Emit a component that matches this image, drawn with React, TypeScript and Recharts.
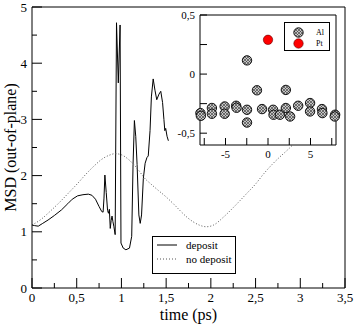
import { CartesianGrid, Legend, Line, LineChart, Scatter, ScatterChart, XAxis, YAxis } from "recharts";

// main panel: MSD vs time
const DEPOSIT_TIME = [
  0, 0.03, 0.07, 0.12, 0.18, 0.25, 0.33, 0.4, 0.45, 0.51, 0.57, 0.63, 0.67, 0.71, 0.75, 0.78, 0.795, 0.805,
  0.815, 0.83, 0.845, 0.855, 0.865, 0.875, 0.885, 0.895, 0.905, 0.915, 0.93, 0.945, 0.965, 0.985, 0.995, 1.02,
  1.05, 1.09, 1.115, 1.13, 1.145, 1.16, 1.175, 1.195, 1.21, 1.225, 1.245, 1.265, 1.285, 1.3, 1.32, 1.335, 1.355,
  1.375, 1.395, 1.42, 1.44, 1.46, 1.475, 1.485, 1.495, 1.51, 1.525,
];
const DEPOSIT_MSD = [
  1.12, 1.11, 1.1, 1.15, 1.21, 1.29, 1.39, 1.5, 1.58, 1.64, 1.66, 1.67, 1.65, 1.58, 1.45, 1.36, 1.35, 1.6,
  2.01, 1.7, 1.38, 1.33, 1.4, 1.06, 1.2, 1.28, 1.18, 1.1, 0.95, 4.72, 3.65, 4.68, 0.8, 0.71,
  0.68, 0.71, 0.92, 2.2, 2.98, 2.7, 2.2, 1.3, 1.15, 1.3, 1.95, 2.22, 2.32, 2.35, 2.8, 3.4, 3.72,
  3.52, 3.35, 3.45, 3.5, 3.3, 3.0, 2.8, 2.84, 2.7, 2.62,
];
const NO_DEPOSIT_TIME = [
  0, 0.1, 0.2, 0.33, 0.42, 0.51, 0.6, 0.7, 0.78, 0.86, 0.93, 1.0, 1.07, 1.13, 1.2, 1.25, 1.33, 1.41, 1.5,
  1.58, 1.66, 1.74, 1.8, 1.87, 1.95, 2.03, 2.14, 2.25, 2.4, 2.5, 2.59, 2.68, 2.77, 2.86, 2.95,
];
const NO_DEPOSIT_MSD = [
  1.12, 1.22, 1.36, 1.56, 1.71, 1.86, 2.02, 2.18, 2.29, 2.36, 2.39, 2.37, 2.3, 2.21, 2.08, 1.97, 1.85, 1.74, 1.62,
  1.5, 1.37, 1.25, 1.18, 1.12, 1.09, 1.12, 1.26, 1.43, 1.68, 1.85, 2.03, 2.19, 2.33, 2.46, 2.6,
];
const TIME_TICKS = [0, 0.25, 0.5, 0.75, 1, 1.25, 1.5, 1.75, 2, 2.25, 2.5, 2.75, 3, 3.25, 3.5];
const MSD_TICKS = [0, 0.5, 1, 1.5, 2, 2.5, 3, 3.5, 4, 4.5, 5];

// inset: per-atom values
const AL_POS = [
  -7.95, -7.9, -6.6, -6.6, -5.1, -5.1, -3.75, -3.7, -2.47, -2.47, -2.47, -1.3, -0.7, 0.6, 0.65, 1.4,
  2.1, 2.1, 2.6, 3.55, 4.95, 4.95, 6.35, 6.4, 7.9, 7.85,
];
const AL_VAL = [
  -0.33, -0.353, -0.287, -0.336, -0.274, -0.336, -0.268, -0.285, 0.116, -0.302, -0.41, -0.137, -0.296, -0.302,
  -0.344, -0.344, -0.287, -0.134, -0.359, -0.268, -0.245, -0.316, -0.296, -0.33, -0.344, -0.359,
];
const PT_POS = [0];
const PT_VAL = [0.29];
const INSET_X_TICKS = [-7.5, -5, -2.5, 0, 2.5, 5, 7.5];
const INSET_Y_TICKS = [-0.5, -0.25, 0, 0.25, 0.5];

const FONT = '"Liberation Serif", "Times New Roman", serif';

const LINES = [
  { key: "deposit", name: "deposit", color: "#000", dash: undefined as string | undefined },
  { key: "nodep", name: "no deposit", color: "#555", dash: "1 2" },
];

const deposit = DEPOSIT_TIME.map((t, i) => ({ t, msd: DEPOSIT_MSD[i] }));
const noDeposit = NO_DEPOSIT_TIME.map((t, i) => ({ t, msd: NO_DEPOSIT_MSD[i] }));
const al = AL_POS.map((x, i) => ({ x, y: AL_VAL[i] }));
const pt = PT_POS.map((x, i) => ({ x, y: PT_VAL[i] }));

const fmt = (v: number) => String(v).replace(".", ",");
const isMult = (v: number, step: number) => Math.abs(v / step - Math.round(v / step)) < 1e-6;

type Side = "bottom" | "top" | "left" | "right";
interface TickOpts {
  major: (v: number) => boolean;
  labelled: (v: number) => boolean;
  majorLen: number;
  minorLen: number;
  fontSize: number;
  gap: number;
}

// ticks point into the frame, labels sit outside
function frameTick(side: Side, o: TickOpts) {
  return (p: any) => {
    const { x, y, payload } = p;
    const v = payload.value as number;
    const len = o.major(v) ? o.majorLen : o.minorLen;
    const dx = side === "left" ? len : side === "right" ? -len : 0;
    const dy = side === "bottom" ? -len : side === "top" ? len : 0;
    let label = null;
    if (o.labelled(v) && side === "bottom") {
      label = (
        <text x={x} y={y + o.gap} textAnchor="middle" fontSize={o.fontSize} fontFamily={FONT} fill="#000">
          {fmt(v)}
        </text>
      );
    } else if (o.labelled(v) && side === "left") {
      label = (
        <text x={x - o.gap} y={y} dy="0.35em" textAnchor="end" fontSize={o.fontSize} fontFamily={FONT} fill="#000">
          {fmt(v)}
        </text>
      );
    }
    return (
      <g>
        <line x1={x} y1={y} x2={x + dx} y2={y + dy} stroke="#000" strokeWidth={1} />
        {label}
      </g>
    );
  };
}

const never = () => false;
const mainX: TickOpts = { major: (v) => isMult(v, 0.5), labelled: (v) => isMult(v, 0.5), majorLen: 10, minorLen: 5, fontSize: 13, gap: 14 };
const mainY: TickOpts = { major: (v) => isMult(v, 1), labelled: (v) => isMult(v, 1), majorLen: 10, minorLen: 5, fontSize: 13, gap: 5 };
const insetX: TickOpts = { major: () => true, labelled: (v) => isMult(v, 5), majorLen: 7, minorLen: 7, fontSize: 11, gap: 13 };
const insetY: TickOpts = { major: () => true, labelled: (v) => isMult(v, 0.5), majorLen: 7, minorLen: 7, fontSize: 11, gap: 5 };

// shared axis props: 1px boxes so the axis line sits on the plot edge
const edge = { tickSize: 0, tickMargin: 0, tickLine: false, interval: 0 as const, axisLine: { stroke: "#000" } };

function AlDot(p: any) {
  return <circle cx={p.cx} cy={p.cy} r={4.7} fill="url(#alHatch)" stroke="#000" strokeWidth={0.9} />;
}
function PtDot(p: any) {
  return <circle cx={p.cx} cy={p.cy} r={4.7} fill="#ff0000" stroke="#600" strokeWidth={0.6} />;
}

function MainLegend() {
  return (
    <div style={{ width: 82, height: 35, border: "1px solid #000", background: "#fff", paddingTop: 1, boxSizing: "content-box" }}>
      {LINES.map((l) => (
        <div key={l.key} style={{ display: "flex", alignItems: "center", height: 14, paddingLeft: 4, fontFamily: FONT, fontSize: 11 }}>
          <svg width={20} height={4} style={{ marginRight: 9 }}>
            <line x1={0} y1={2} x2={20} y2={2} stroke={l.color} strokeDasharray={l.dash} />
          </svg>
          {l.name}
        </div>
      ))}
    </div>
  );
}

function InsetLegend() {
  const rows = [
    { name: "Al", dot: <circle cx={5.5} cy={5.5} r={4.7} fill="url(#alHatch)" stroke="#000" strokeWidth={0.9} /> },
    { name: "Pt", dot: <circle cx={5.5} cy={5.5} r={4.7} fill="#ff0000" stroke="#600" strokeWidth={0.6} /> },
  ];
  return (
    <div style={{ width: 46, height: 29, border: "1px solid #000", background: "#fff", paddingTop: 4, boxSizing: "border-box" }}>
      {rows.map((r) => (
        <div key={r.name} style={{ display: "flex", alignItems: "center", height: 11, paddingLeft: 8, fontFamily: FONT, fontSize: 8 }}>
          <svg width={11} height={11} style={{ marginRight: 12 }}>
            {r.dot}
          </svg>
          {r.name}
        </div>
      ))}
    </div>
  );
}

export default function App() {
  return (
    <div style={{ position: "relative", width: 354, height: 327, background: "#fff", fontFamily: FONT }}>
      <style>{"body{margin:0}"}</style>
      <svg width={0} height={0} style={{ position: "absolute" }}>
        <defs>
          <pattern id="alHatch" patternUnits="userSpaceOnUse" width={3} height={3}>
            <rect width={3} height={3} fill="#c4c4c4" />
            <path d="M0,0 L3,3 M3,0 L0,3" stroke="#333" strokeWidth={0.6} />
          </pattern>
        </defs>
      </svg>

      <LineChart width={354} height={327} margin={{ top: 6, right: 8, bottom: 38, left: 31 }}>
        <XAxis
          {...edge}
          type="number"
          dataKey="t"
          domain={[0, 3.5]}
          ticks={TIME_TICKS}
          height={1}
          tick={frameTick("bottom", mainX)}
          label={{
            content: (p: any) => (
              <text x={p.viewBox.x + p.viewBox.width / 2} y={p.viewBox.y + 32} textAnchor="middle" fontSize={16} fontFamily={FONT} fill="#000">
                time (ps)
              </text>
            ),
          }}
        />
        <XAxis {...edge} xAxisId="top" orientation="top" type="number" dataKey="t" domain={[0, 3.5]} ticks={TIME_TICKS}
          height={1} tick={frameTick("top", { ...mainX, labelled: never })} />
        <YAxis
          {...edge}
          type="number"
          domain={[0, 5]}
          ticks={MSD_TICKS}
          width={1}
          tick={frameTick("left", mainY)}
          label={{
            content: (p: any) => {
              const cx = p.viewBox.x + p.viewBox.width - 22;
              const cy = p.viewBox.y + p.viewBox.height / 2;
              return (
                <text x={cx} y={cy} transform={`rotate(-90, ${cx}, ${cy})`} textAnchor="middle" dy="0.35em" fontSize={16} fontFamily={FONT} fill="#000">
                  MSD (out-of-plane)
                </text>
              );
            },
          }}
        />
        <YAxis {...edge} yAxisId="right" orientation="right" type="number" domain={[0, 5]} ticks={MSD_TICKS}
          width={1} tick={frameTick("right", { ...mainY, labelled: never })} />
        <Line data={deposit} dataKey="msd" name={LINES[0].name} type="linear" stroke={LINES[0].color} strokeWidth={1} dot={false} isAnimationActive={false} />
        <Line data={noDeposit} dataKey="msd" name={LINES[1].name} type="monotone" stroke={LINES[1].color} strokeDasharray={LINES[1].dash} strokeWidth={1} dot={false} isAnimationActive={false} />
        <Legend verticalAlign="middle" align="center" content={() => <MainLegend />} wrapperStyle={{ left: 152, top: 236, width: 84, height: 37 }} />
      </LineChart>

      <div style={{ position: "absolute", left: 170, top: 0 }}>
        <ScatterChart width={184} height={165} margin={{ top: 14, right: 17, bottom: 19, left: 29 }}>
          <CartesianGrid fill="#fff" fillOpacity={1} horizontal={false} vertical={false} />
          <XAxis {...edge} type="number" dataKey="x" domain={[-8, 8]} ticks={INSET_X_TICKS} height={1} tick={frameTick("bottom", insetX)} />
          <XAxis {...edge} xAxisId="top" orientation="top" type="number" dataKey="x" domain={[-8, 8]} ticks={INSET_X_TICKS} height={1}
            tick={frameTick("top", { ...insetX, labelled: never })} />
          <YAxis {...edge} type="number" dataKey="y" domain={[-0.6, 0.5]} ticks={INSET_Y_TICKS} width={1} tick={frameTick("left", insetY)} />
          <YAxis {...edge} yAxisId="right" orientation="right" type="number" dataKey="y" domain={[-0.6, 0.5]} ticks={INSET_Y_TICKS} width={1}
            tick={frameTick("right", { ...insetY, labelled: never })} />
          <Scatter name="Al" data={al} shape={AlDot} isAnimationActive={false} />
          <Scatter name="Pt" data={pt} shape={PtDot} isAnimationActive={false} />
          <Legend verticalAlign="middle" align="center" content={() => <InsetLegend />} wrapperStyle={{ left: 114, top: 22, width: 46, height: 29 }} />
        </ScatterChart>
      </div>
    </div>
  );
}
